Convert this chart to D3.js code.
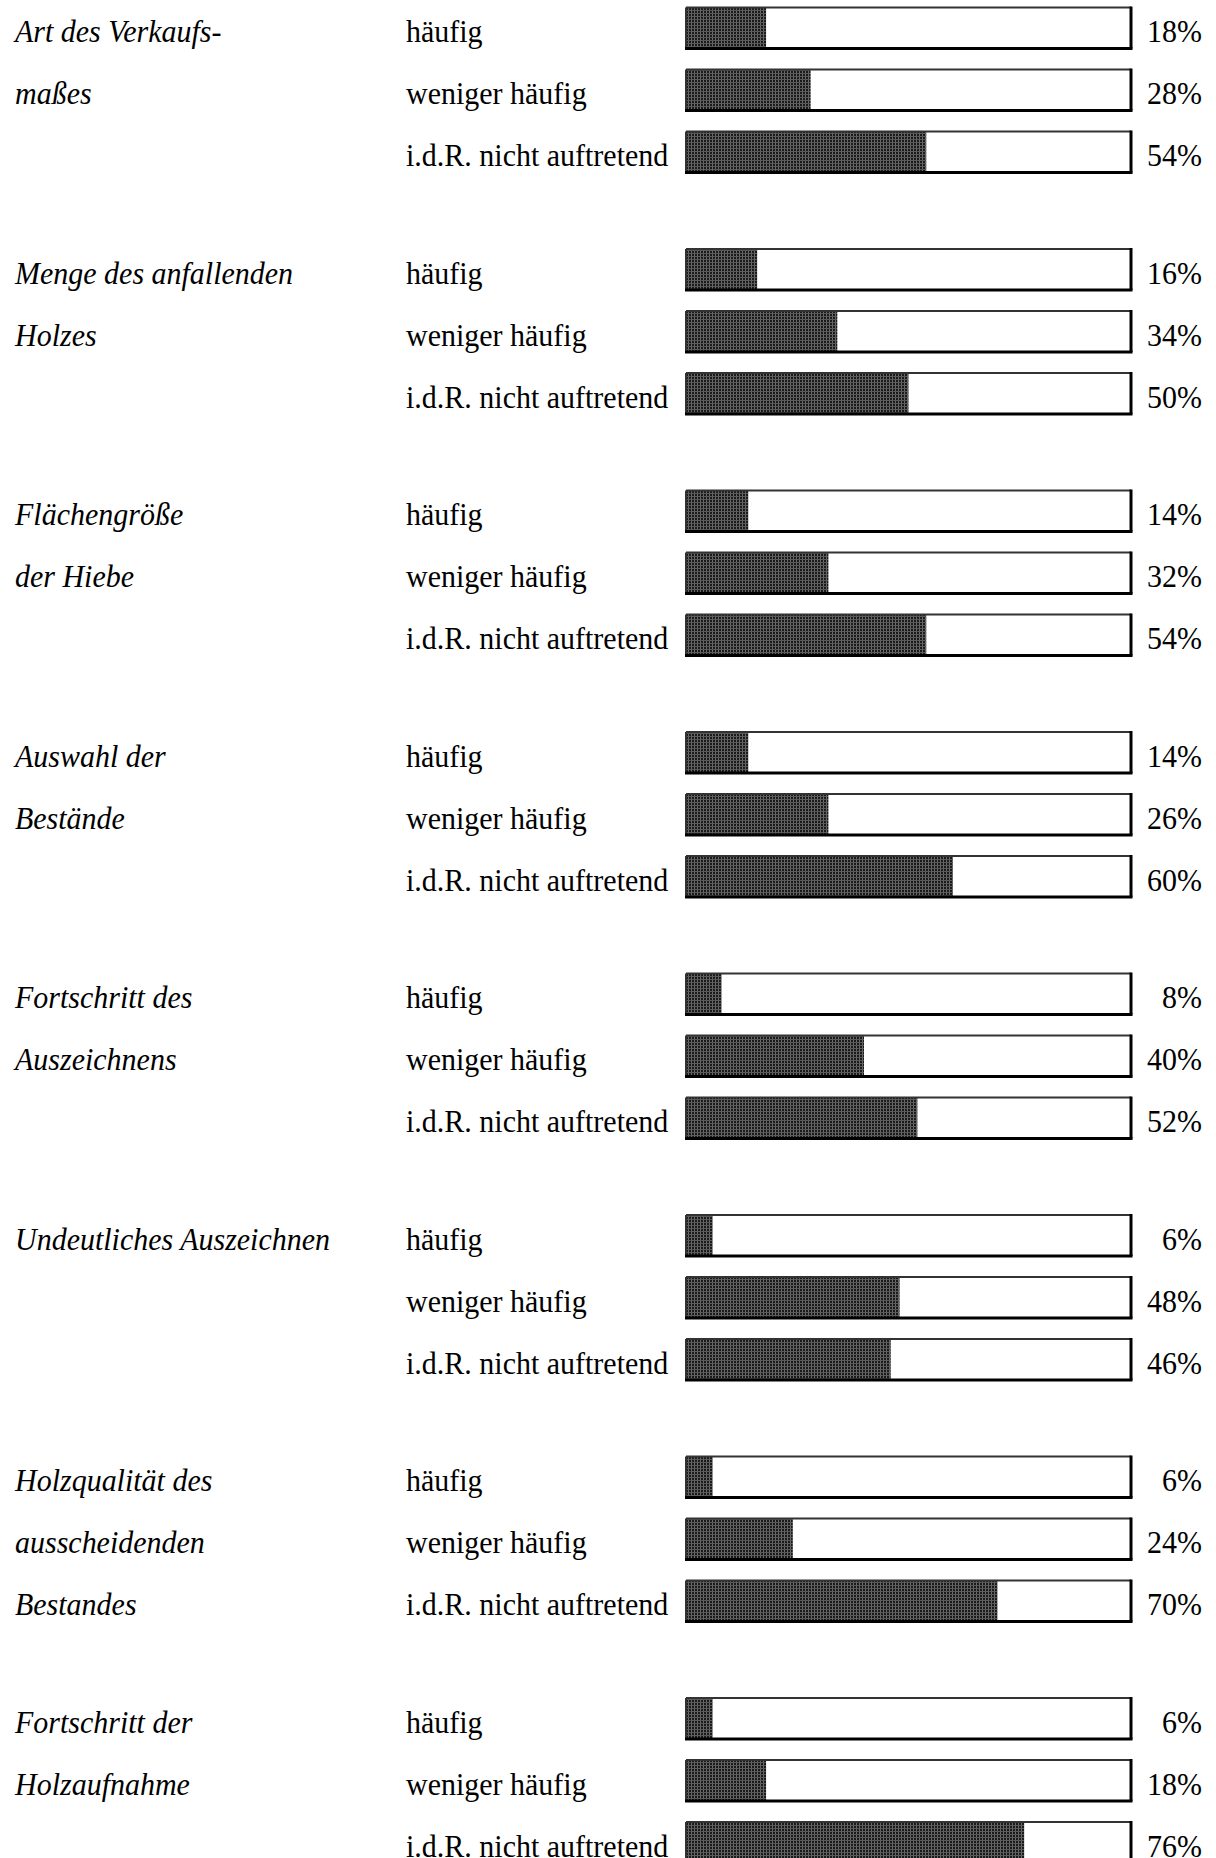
<!DOCTYPE html>
<html>
<head>
<meta charset="utf-8">
<script src="https://cdn.jsdelivr.net/npm/d3@7"></script>
<style>
  html, body { margin: 0; padding: 0; background: #fff; }
  svg { display: block; }
  text { font-family: "Liberation Serif", "Times New Roman", serif; font-size: 32px; fill: #000; }
</style>
</head>
<body>
<svg id="chart" width="1216" height="1858"></svg>
<script>
// ---- data ----
const categories = [
  ["Art des Verkaufs-", "maßes"],
  ["Menge des anfallenden", "Holzes"],
  ["Flächengröße", "der Hiebe"],
  ["Auswahl der", "Bestände"],
  ["Fortschritt des", "Auszeichnens"],
  ["Undeutliches Auszeichnen"],
  ["Holzqualität des", "ausscheidenden", "Bestandes"],
  ["Fortschritt der", "Holzaufnahme"]
];
const answers = ["häufig", "weniger häufig", "i.d.R. nicht auftretend"];
// printed percentages
const shareLabels = [
  ["18%", "28%", "54%"],
  ["16%", "34%", "50%"],
  ["14%", "32%", "54%"],
  ["14%", "26%", "60%"],
  ["8%", "40%", "52%"],
  ["6%", "48%", "46%"],
  ["6%", "24%", "70%"],
  ["6%", "18%", "76%"]
];
// drawn bar lengths (in %)
const barValues = [
  [18, 28, 54],
  [16, 34, 50],
  [14, 32, 54],
  [14, 32, 60],
  [8, 40, 52],
  [6, 48, 46],
  [6, 24, 70],
  [6, 18, 76]
];

// ---- layout ----
const svg = d3.select("#chart");
const x = d3.scaleLinear().domain([0, 100]).range([686, 1131]);
const groupY = d3.scaleLinear().domain([0, 1]).range([7.5, 249]);
const rowY = d3.scaleLinear().domain([0, 1]).range([0, 62]);
const barH = 41;
const sx = 0.9375;
const base = 14;

const defs = svg.append("defs");
const pat = defs.append("pattern").attr("id", "dots")
  .attr("patternUnits", "userSpaceOnUse").attr("width", 3).attr("height", 3);
pat.append("rect").attr("width", 3).attr("height", 3).attr("fill", "#1a1a1a");
pat.append("rect").attr("x", 1).attr("y", 0).attr("width", 1).attr("height", 3).attr("fill", "#6a6a6a");
pat.append("rect").attr("x", 0).attr("y", 1).attr("width", 3).attr("height", 1).attr("fill", "#5a5a5a");

function label(px, py, str, opts = {}) {
  const t = svg.append("text")
    .attr("transform", `translate(${px},${py}) scale(${sx},1)`)
    .text(str);
  if (opts.italic) t.attr("font-style", "italic");
  if (opts.anchor) t.attr("text-anchor", opts.anchor);
  return t;
}

categories.forEach((lines, g) => {
  const y0 = groupY(g);
  lines.forEach((ln, i) => {
    label(15, y0 + rowY(i) + barH / 2 + base, ln, { italic: true });
  });
  answers.forEach((a, r) => {
    const top = y0 + rowY(r);
    const cy = top + barH / 2;
    label(406, cy + base, a);
    svg.append("rect").attr("x", x(0)).attr("y", top)
      .attr("width", x(100) - x(0)).attr("height", barH).attr("fill", "#fff");
    svg.append("rect").attr("x", x(0)).attr("y", top)
      .attr("width", x(barValues[g][r]) - x(0)).attr("height", barH)
      .attr("fill", "url(#dots)");
    svg.append("line").attr("x1", x(0)).attr("x2", x(100)).attr("y1", top).attr("y2", top)
      .attr("stroke", "#333").attr("stroke-width", 2);
    svg.append("line").attr("x1", x(0)).attr("x2", x(0)).attr("y1", top).attr("y2", top + barH)
      .attr("stroke", "#333").attr("stroke-width", 2);
    svg.append("line").attr("x1", x(0) - 1).attr("x2", x(100) + 1.5).attr("y1", top + barH).attr("y2", top + barH)
      .attr("stroke", "#000").attr("stroke-width", 3);
    svg.append("line").attr("x1", x(100)).attr("x2", x(100)).attr("y1", top - 1).attr("y2", top + barH)
      .attr("stroke", "#000").attr("stroke-width", 3);
    label(1202, cy + base, shareLabels[g][r], { anchor: "end" });
  });
});
</script>
</body>
</html>
